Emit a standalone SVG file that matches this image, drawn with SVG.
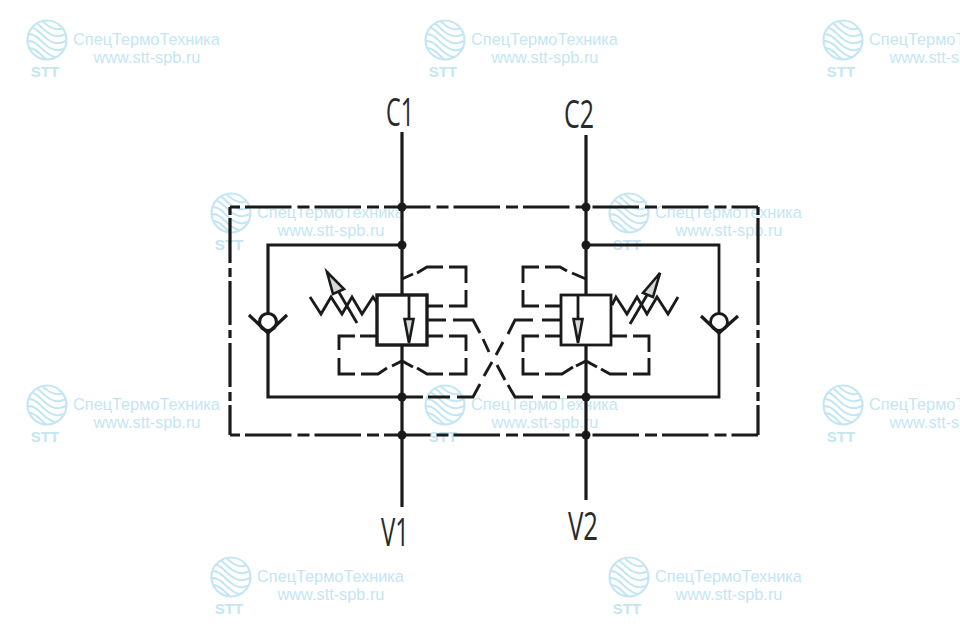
<svg xmlns="http://www.w3.org/2000/svg" width="960" height="643" viewBox="0 0 960 643">
<style>
.wm{fill:#c4e6f3;font-family:"Liberation Sans",Arial,sans-serif;font-size:16.3px;text-anchor:middle}
.wb{fill:#c4e6f3;font-family:"Liberation Sans",Arial,sans-serif;font-size:15px;font-weight:bold;text-anchor:middle}
.wl{fill:none;stroke:#c4e6f3;stroke-width:2.1}
.s{fill:none;stroke:#1a1a1a;stroke-width:3.2}
.t{fill:none;stroke:#1a1a1a;stroke-width:2.8}
.d{fill:none;stroke:#1a1a1a;stroke-width:2.9;stroke-linejoin:miter}
.o{fill:none;stroke:#1a1a1a;stroke-width:3.2}
.g{fill:#d5d9da;stroke:#1a1a1a;stroke-width:2.6;stroke-linejoin:miter}
.b{fill:#fff;stroke:#1a1a1a;stroke-width:3.4}
.p{fill:#1a1a1a}
.lab{fill:#2a2a2a;font-family:"Open Sans","Noto Sans",sans-serif;font-size:38px}
</style>
<defs>
<clipPath id="cc"><circle cx="21" cy="20" r="20"/></clipPath>
<g id="logo">
<circle class="wl" cx="21" cy="20" r="19.5"/>
<g clip-path="url(#cc)">
<path class="wl" d="M-4 -5C8 -11 13 -1 21 5S35 11 47 3"/>
<path class="wl" d="M-4 2C8 -4 13 6 21 12S35 18 47 10"/>
<path class="wl" d="M-4 9C8 3 13 13 21 19S35 25 47 17"/>
<path class="wl" d="M-4 16C8 10 13 20 21 26S35 32 47 24"/>
<path class="wl" d="M-4 23C8 17 13 27 21 33S35 39 47 31"/>
<path class="wl" d="M-4 30C8 24 13 34 21 40S35 46 47 38"/>
</g>
</g>
</defs>
<rect width="960" height="643" fill="#fff"/>
<g id="watermarks">
<g id="wm1" transform="translate(26,20)"><use href="#logo"/><text class="wb" x="19" y="57">STT</text><text class="wm" x="120.5" y="25">СпецТермоТехника</text><text class="wm" x="121" y="43">www.stt-spb.ru</text></g>
<g id="wm2" transform="translate(424,20)"><use href="#logo"/><text class="wb" x="19" y="57">STT</text><text class="wm" x="120.5" y="25">СпецТермоТехника</text><text class="wm" x="121" y="43">www.stt-spb.ru</text></g>
<g id="wm3" transform="translate(822,20)"><use href="#logo"/><text class="wb" x="19" y="57">STT</text><text class="wm" x="120.5" y="25">СпецТермоТехника</text><text class="wm" x="121" y="43">www.stt-spb.ru</text></g>
<g id="wm4" transform="translate(210,193)"><use href="#logo"/><text class="wb" x="19" y="57">STT</text><text class="wm" x="120.5" y="25">СпецТермоТехника</text><text class="wm" x="121" y="43">www.stt-spb.ru</text></g>
<g id="wm5" transform="translate(608,193)"><use href="#logo"/><text class="wb" x="19" y="57">STT</text><text class="wm" x="120.5" y="25">СпецТермоТехника</text><text class="wm" x="121" y="43">www.stt-spb.ru</text></g>
<g id="wm6" transform="translate(26,385)"><use href="#logo"/><text class="wb" x="19" y="57">STT</text><text class="wm" x="120.5" y="25">СпецТермоТехника</text><text class="wm" x="121" y="43">www.stt-spb.ru</text></g>
<g id="wm7" transform="translate(424,385)"><use href="#logo"/><text class="wb" x="19" y="57">STT</text><text class="wm" x="120.5" y="25">СпецТермоТехника</text><text class="wm" x="121" y="43">www.stt-spb.ru</text></g>
<g id="wm8" transform="translate(822,385)"><use href="#logo"/><text class="wb" x="19" y="57">STT</text><text class="wm" x="120.5" y="25">СпецТермоТехника</text><text class="wm" x="121" y="43">www.stt-spb.ru</text></g>
<g id="wm9" transform="translate(210,557)"><use href="#logo"/><text class="wb" x="19" y="57">STT</text><text class="wm" x="120.5" y="25">СпецТермоТехника</text><text class="wm" x="121" y="43">www.stt-spb.ru</text></g>
<g id="wm10" transform="translate(608,557)"><use href="#logo"/><text class="wb" x="19" y="57">STT</text><text class="wm" x="120.5" y="25">СпецТермоТехника</text><text class="wm" x="121" y="43">www.stt-spb.ru</text></g>
</g>
<g id="connectors">
<path class="o" d="M230 207H758" stroke-dasharray="10 5 46.5 6 12 5 46.5 6 12 5 46.5 6 12 5 46.5 6 12 5 46.5 6 12 5 46.5 6 12 5 46.5 6 12 5 30"/>
<path class="o" d="M230 435H758" stroke-dasharray="10 5 46.5 6 12 5 46.5 6 12 5 46.5 6 12 5 46.5 6 12 5 46.5 6 12 5 46.5 6 12 5 46.5 6 12 5 30"/>
<path class="o" d="M230 207V435" stroke-dasharray="8 3 45 5 9 4 44 5 8 5 44 5 9 4 30"/>
<path class="o" d="M758 207V435" stroke-dasharray="8 3 45 5 9 4 44 5 8 5 44 5 9 4 30"/>
<path class="s" d="M402 132V295M402 345V507"/>
<path class="s" d="M586 135V295M586 345V500"/>
<path class="s" d="M402 245H268V313M268 333V397H402"/>
<path class="t" d="M586 245H719V313M719 333V397H586"/>
<path class="d" d="M402 279L413 274M417 273L427 267H443M449 267H466V283M466 290V306H449M443 306H428"/>
<path class="d" d="M428 320H446M453 320H473L480 333M483 339L489 352M497 365L505 380M508 385L515 397H533M542 397H560M567 397H586"/>
<path class="d" d="M560 320H542M533 320H515L508 334M503 342L496 355M492 362L484 376M480 384L473 397H457M450 397H428M423 397H402"/>
<path class="d" d="M428 336H443M449 336H466V351M466 358V374H449M443 374H427L417 368M413 367L402 361L392 366M387 368L378 374H361M355 374H339V358M339 350V336H355M360 336H377"/>
<path class="d" d="M586 279L572 273M567 271L560 267H545M539 267H523V283M523 290V306H539M545 306H560"/>
<path class="d" d="M612 336H627M633 336H649V352M649 358V374H633M627 374H610L601 369M597 367L586 361L576 366M573 367L562 374H545M539 374H523V358M523 352V336H539M545 336H560"/>
</g>
<g id="valve-left">
<path class="t" d="M310 297L321 314L331 297L342 314L352 297L362 314L373 297L377 303"/>
<path class="t" d="M327 272L357 323"/>
<path class="g" d="M327 272L344 289L333 294Z"/>
<rect class="b" x="377" y="295" width="50" height="50"/>
<path class="t" d="M409 295V319"/>
<path class="g" d="M404.5 319H413.5L409 343Z"/>
</g>
<g id="valve-right">
<path class="t" d="M612 305L616 297L627 314L637 297L647 314L657 297L668 314L678 297"/>
<path class="t" d="M630 324L660 273"/>
<path class="g" d="M660 273L653 297L643 293Z"/>
<rect class="b" x="561" y="295" width="50" height="50" style="stroke-width:2.8"/>
<path class="t" d="M578 295V319"/>
<path class="g" d="M573.5 319H582.5L578 343Z"/>
</g>
<g id="check-left"><circle class="s" cx="268" cy="322" r="8.5"/><path class="s" d="M249 315L268 333L287 315"/></g>
<g id="check-right"><circle class="t" cx="719" cy="322" r="8.5"/><path class="s" d="M701 316L719 333L738 316"/></g>
<g id="junctions">
<circle class="p" cx="402" cy="207" r="4.5"/><circle class="p" cx="402" cy="245" r="4.5"/><circle class="p" cx="402" cy="397" r="4.5"/><circle class="p" cx="402" cy="435" r="4.5"/>
<circle class="p" cx="586" cy="207" r="4.5"/><circle class="p" cx="586" cy="245" r="4.5"/><circle class="p" cx="586" cy="397" r="4.5"/><circle class="p" cx="586" cy="435" r="4.5"/>
</g>
<g id="labels">
<text class="lab" x="386" y="126" textLength="28" lengthAdjust="spacingAndGlyphs">C1</text>
<text class="lab" x="564" y="128" textLength="30" lengthAdjust="spacingAndGlyphs">C2</text>
<text class="lab" x="381" y="546" textLength="28" lengthAdjust="spacingAndGlyphs">V1</text>
<text class="lab" x="568" y="540" textLength="30" lengthAdjust="spacingAndGlyphs">V2</text>
</g>
</svg>
